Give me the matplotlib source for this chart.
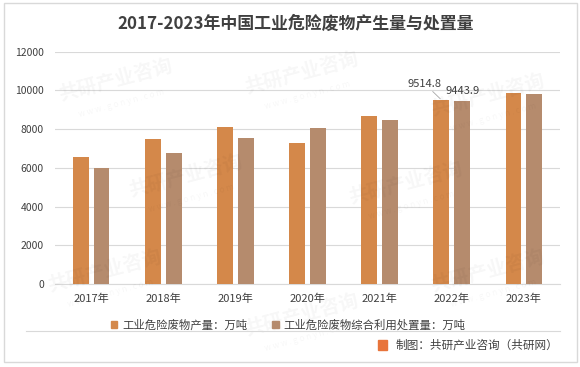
import numpy as np
import matplotlib.pyplot as plt
from matplotlib.patches import Rectangle, Patch

plt.rcParams['font.family'] = ['Noto Sans CJK SC', 'DejaVu Sans']

# datos
years = ['2017年', '2018年', '2019年', '2020年', '2021年', '2022年', '2023年']
produccion = [6581.0, 7470.0, 8126.0, 7281.8, 8653.6, 9514.8, 9850.0]
disposicion = [5972.7, 6788.5, 7539.3, 8064.0, 8461.2, 9443.9, 9840.0]
serie_names = ['工业危险废物产量：万吨', '工业危险废物综合利用处置量：万吨']
yticks = [0, 2000, 4000, 6000, 8000, 10000, 12000]

col_prod = '#D4884A'
col_disp = '#B58B6D'
txt_col = '#404040'

W, H = 580, 367
fig = plt.figure(figsize=(W / 100, H / 100), dpi=100)

# borde exterior
fig.patches.append(Rectangle((4 / W, 1 - 362 / H), 573 / W, 359 / H, transform=fig.transFigure,
                             fill=False, edgecolor='#D9D9D9', linewidth=1))

# marcas de agua (muy tenues)
for (wx, wy) in [(0.20, 0.78), (0.52, 0.80), (0.84, 0.74), (0.32, 0.52), (0.70, 0.50),
                 (0.18, 0.26), (0.52, 0.14), (0.84, 0.26)]:
    fig.text(wx, wy, '共研产业咨询', fontsize=14, fontweight='bold', color='#000000', alpha=0.035,
             rotation=15, ha='center', va='center', zorder=0)
    fig.text(wx + 0.01, wy - 0.06, 'w w w . g o n y n . c o m', fontsize=6, color='#000000',
             alpha=0.035, rotation=15, ha='center', va='center', zorder=0)

ax = fig.add_axes([55 / W, 1 - 284 / H, 505 / W, (284 - 51.7) / H])
ax.set_facecolor('none')

x = np.arange(len(years))
bw = 0.22
off = 0.145
ax.bar(x - off, produccion, bw, color=col_prod, zorder=3)
ax.bar(x + off, disposicion, bw, color=col_disp, zorder=3)

ax.set_xlim(-0.5, len(years) - 0.5)
ax.set_ylim(0, 12000)
ax.set_yticks(yticks)
ax.set_yticklabels([str(v) for v in yticks], fontsize=7.5, color=txt_col)
ax.set_xticks(x)
ax.set_xticklabels(years, fontsize=8, color=txt_col)
ax.tick_params(axis='y', length=0, pad=8)
ax.tick_params(axis='x', length=0, pad=7)
ax.grid(axis='y', color='#D9D9D9', linewidth=0.8, zorder=0)
for s in ['top', 'right', 'left']:
    ax.spines[s].set_visible(False)
ax.spines['bottom'].set_color('#D9D9D9')

# etiquetas 2022
ax.annotate(f'{produccion[5]:.1f}', xy=(x[5] - off, produccion[5]), xytext=(-12, 8),
            textcoords='offset points', ha='center', va='bottom', fontsize=8, color='#404040',
            arrowprops=dict(arrowstyle='-', color='#A6A6A6', lw=0.6, shrinkA=0, shrinkB=1))
ax.annotate(f'{disposicion[5]:.1f}', xy=(x[5] + off, disposicion[5]), xytext=(0, 4),
            textcoords='offset points', ha='center', va='bottom', fontsize=8, color='#404040')

fig.text(0.51, 1 - 24 / H, '2017-2023年中国工业危险废物产生量与处置量', ha='center', va='center',
         fontsize=12.2, fontweight='bold', color='#404040')

handles = [Patch(color=col_prod), Patch(color=col_disp)]
fig.legend(handles, serie_names, loc='center', bbox_to_anchor=(288 / W, 1 - 325 / H), ncol=2,
           frameon=False, fontsize=8.2, handlelength=0.6, handleheight=0.6, handletextpad=0.4,
           columnspacing=2.2, labelcolor=txt_col)

# linea separadora y fuente
fig.add_artist(plt.Line2D([26 / W, 560 / W], [1 - 331 / H, 1 - 331 / H], transform=fig.transFigure,
                          color='#D9D9D9', linewidth=0.8))
fig.patches.append(Rectangle((378 / W, 1 - 350 / H), 9 / W, 10 / H, transform=fig.transFigure,
                             color='#E8743B'))
fig.text(558 / W, 1 - 345 / H, '制图：共研产业咨询（共研网）', ha='right', va='center',
         fontsize=8.4, color='#404040')

fig.savefig('out.png', dpi=100)
